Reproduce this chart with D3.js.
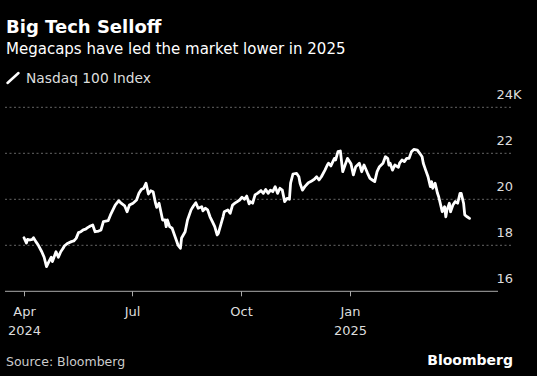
<!DOCTYPE html>
<html><head><meta charset="utf-8">
<script src="https://cdn.jsdelivr.net/npm/d3@7"></script>
<style>
body{margin:0;background:#000}
svg{display:block;background:#000}
text{font-family:"DejaVu Sans",Verdana,sans-serif}
</style></head>
<body><svg id="c" width="537" height="376"></svg>
<script>
const title = "Big Tech Selloff";
const subtitle = "Megacaps have led the market lower in 2025";
const seriesName = "Nasdaq 100 Index";
const source = "Source: Bloomberg";
const dates = [
"2024-04-01","2024-04-03","2024-04-04","2024-04-06","2024-04-08","2024-04-09","2024-04-11","2024-04-13","2024-04-16","2024-04-18",
"2024-04-20","2024-04-22","2024-04-24","2024-04-25","2024-04-27","2024-04-28","2024-04-30","2024-05-02","2024-05-04","2024-05-05",
"2024-05-08","2024-05-11","2024-05-13","2024-05-15","2024-05-17","2024-05-19","2024-05-21","2024-05-23","2024-05-25","2024-05-27",
"2024-05-29","2024-05-31","2024-06-03","2024-06-05","2024-06-07","2024-06-11","2024-06-13","2024-06-17","2024-06-20","2024-06-22",
"2024-06-25","2024-06-27","2024-06-29","2024-07-02","2024-07-05","2024-07-07","2024-07-09","2024-07-11","2024-07-13","2024-07-15",
"2024-07-17","2024-07-19","2024-07-21","2024-07-22","2024-07-24","2024-07-27","2024-07-29","2024-07-30","2024-07-31","2024-08-02",
"2024-08-04","2024-08-06","2024-08-09","2024-08-11","2024-08-12","2024-08-15","2024-08-17","2024-08-20","2024-08-22","2024-08-24",
"2024-08-26","2024-08-29","2024-08-30","2024-09-01","2024-09-03","2024-09-05","2024-09-07","2024-09-09","2024-09-11","2024-09-12",
"2024-09-14","2024-09-16","2024-09-17","2024-09-20","2024-09-22","2024-09-24","2024-09-26","2024-09-28","2024-09-30","2024-10-02",
"2024-10-04","2024-10-06","2024-10-08","2024-10-09","2024-10-11","2024-10-13","2024-10-15","2024-10-18","2024-10-20","2024-10-22",
"2024-10-24","2024-10-26","2024-10-28","2024-10-30","2024-11-01","2024-11-03","2024-11-05","2024-11-07","2024-11-09","2024-11-11",
"2024-11-12","2024-11-14","2024-11-17","2024-11-19","2024-11-20","2024-11-22","2024-11-24","2024-11-27","2024-11-29","2024-12-02",
"2024-12-04","2024-12-06","2024-12-08","2024-12-11","2024-12-13","2024-12-14","2024-12-16","2024-12-19","2024-12-20","2024-12-22",
"2024-12-24","2024-12-26","2024-12-28","2024-12-30","2025-01-02","2025-01-04","2025-01-06","2025-01-09","2025-01-11","2025-01-13",
"2025-01-16","2025-01-18","2025-01-20","2025-01-22","2025-01-24","2025-01-26","2025-01-29","2025-01-31","2025-02-02","2025-02-03",
"2025-02-04","2025-02-06","2025-02-08","2025-02-11","2025-02-12","2025-02-14","2025-02-16","2025-02-18","2025-02-20","2025-02-22",
"2025-02-24","2025-02-27","2025-03-01","2025-03-03","2025-03-04","2025-03-06","2025-03-08","2025-03-10","2025-03-11","2025-03-12",
"2025-03-14","2025-03-16","2025-03-17","2025-03-19","2025-03-20","2025-03-22","2025-03-23","2025-03-24","2025-03-26","2025-03-27",
"2025-03-29","2025-03-31","2025-04-02","2025-04-04","2025-04-05","2025-04-07","2025-04-08","2025-04-10","2025-04-12"
];
const values = [
18330,18100,18260,18230,18260,18330,18160,18010,17720,17480,
17070,17290,17480,17290,17580,17720,17480,17720,17870,17970,
18090,18160,18190,18300,18550,18590,18670,18700,18780,18840,
18880,18590,18620,18670,19030,19070,19320,19750,19940,19830,
19710,19460,19750,19830,19970,20260,20430,20480,20700,20230,
20370,20330,19830,19650,19830,19100,19100,18810,19100,18810,
18740,18450,18010,17870,18320,18590,19100,19540,19710,19850,
19610,19680,19500,19610,19540,19240,19030,18810,18450,18520,
18880,19240,19460,19540,19390,19750,19830,19900,19970,20090,
20000,20140,19800,19900,19830,20190,20260,20380,20260,20430,
20260,20400,20330,20550,20260,20480,20400,19900,20040,20000,
20700,21100,21130,20980,20700,20400,20550,20720,20770,20870,
20980,20840,20980,21270,21490,21570,21450,21780,21710,22070,
22100,21200,21490,21780,21540,21060,21420,21570,21200,21490,
21130,20910,20840,20770,21200,21420,21570,21850,21780,21490,
21570,21270,21490,21390,21570,21710,21640,21780,21780,22070,
22170,22140,22000,21850,21570,21270,20980,20550,20770,20480,
20700,20260,20110,19680,19460,19680,19240,19540,19830,19460,
19750,19900,19830,20260,20260,19830,19320,19240,19170
];
const yTicks = [16000, 18000, 20000, 22000, 24000];
const xTickDates = ["2024-04-01","2024-07-01","2024-10-01","2025-01-01"];
const xTickMonths = ["Apr","Jul","Oct","Jan"];
const xTickYears = ["2024","","","2025"];

const parse = d3.timeParse("%Y-%m-%d");
const data = dates.map((d,i)=>({date:parse(d), value:values[i]}));

const svg = d3.select("#c");
const x = d3.scaleTime().domain(d3.extent(data, d=>d.date)).range([24, 469.5]);
const y = d3.scaleLinear().domain([16000, 24000]).range([291.3, 107.3]);

// header
svg.append("text").attr("x",6).attr("y",33).attr("fill","#fff")
  .attr("font-size",18).attr("font-weight","bold").text(title);
svg.append("text").attr("x",6).attr("y",54).attr("fill","#fff")
  .attr("font-size",15).text(subtitle);
// legend
svg.append("line").attr("x1",7.5).attr("y1",83).attr("x2",18.5).attr("y2",73)
  .attr("stroke","#fff").attr("stroke-width",2.5).attr("stroke-linecap","round");
svg.append("text").attr("x",26).attr("y",83).attr("fill","#ddd")
  .attr("font-size",13.8).text(seriesName);

// grid
svg.append("g").selectAll("line").data(yTicks.filter(t=>t>16000)).join("line")
  .attr("x1",5).attr("x2",512).attr("y1",d=>y(d)).attr("y2",d=>y(d))
  .attr("stroke","#666").attr("stroke-width",1).attr("stroke-dasharray","2,2.5");

// y labels
svg.append("g").selectAll("text").data(yTicks).join("text")
  .attr("x",513).attr("y",d=>y(d)-8.5).attr("fill","#ddd").attr("font-size",13)
  .attr("text-anchor","end").text(d=>d3.format("d")(d/1000));
svg.append("text").attr("x",513).attr("y",y(24000)-8.5).attr("fill","#ddd").attr("font-size",13).text("K");

// x axis
svg.append("line").attr("x1",5).attr("x2",498).attr("y1",y(16000)).attr("y2",y(16000))
  .attr("stroke","#aaa").attr("stroke-width",1);
const xt = xTickDates.map((d,i)=>({date:parse(d), m:xTickMonths[i], yr:xTickYears[i]}));
const tg = svg.append("g").selectAll("g").data(xt).join("g")
  .attr("transform",d=>`translate(${Math.round(x(d.date))+0.5},0)`);
tg.append("line").attr("y1",y(16000)).attr("y2",y(16000)+5).attr("stroke","#aaa");
tg.append("text").attr("y",316).attr("text-anchor","middle").attr("fill","#ddd").attr("font-size",13).text(d=>d.m);
tg.append("text").attr("y",335).attr("text-anchor","middle").attr("fill","#ddd").attr("font-size",13).text(d=>d.yr);

// line
const line = d3.line().x(d=>x(d.date)).y(d=>y(d.value));
svg.append("path").datum(data).attr("d",line).attr("fill","none")
  .attr("stroke","#fff").attr("stroke-width",2.8).attr("stroke-linejoin","round").attr("stroke-linecap","round");

// footer
svg.append("text").attr("x",6).attr("y",366).attr("fill","#ccc").attr("font-size",12.5).text(source);
svg.append("text").attr("x",513).attr("y",365).attr("text-anchor","end").attr("fill","#fff")
  .attr("font-family","Liberation Sans, Arial, sans-serif")
  .attr("font-size",14).attr("font-weight","bold").text("Bloomberg");
</script></body></html>
